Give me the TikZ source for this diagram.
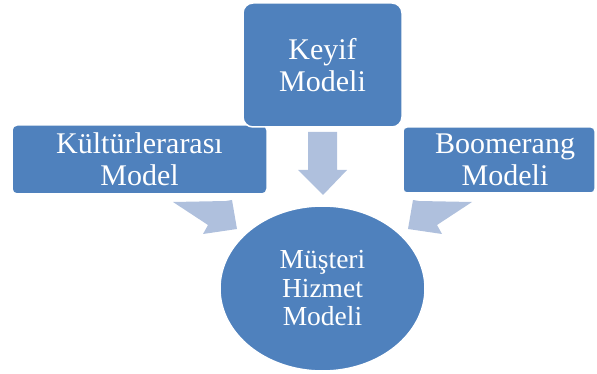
\documentclass[tikz,border=0pt]{standalone}
\usepackage{fontspec}
\setmainfont{Liberation Serif}
\usetikzlibrary{shapes.geometric}

\definecolor{modelblue}{HTML}{4F81BD}
\definecolor{arrowblue}{HTML}{AFC0DD}

\tikzset{
    modelbox/.style={fill=modelblue, draw=white, line width=1.5pt, text=white,
        align=center, inner sep=0pt, font=\fontsize{30}{32}\selectfont},
    modeltext/.style={text=white, align=center, inner sep=0pt,
        font=\fontsize{30}{32}\selectfont},
    bigarrow/.style={fill=arrowblue}
}

\begin{document}
\begin{tikzpicture}[x=1pt, y=-1pt]
    \useasboundingbox (0,0) rectangle (597,374);

    % Block arrows pointing to the centre
    \fill[bigarrow] (308,132) -- (337,132) -- (337,170) -- (347,170) -- (323,195) -- (298,170) -- (308,170) -- cycle;
    \fill[bigarrow] (173,202) -- (226,201) -- (232,200) -- (237,229) -- (203,234) -- (208,225) -- cycle;
    \fill[bigarrow] (472,202) -- (419,201) -- (413,200) -- (408,229) -- (442,234) -- (437,225) -- cycle;

    % Side boxes
    \node[modelbox, minimum width=255pt, minimum height=69pt, rounded corners=5pt] (kultur) at (139.5,159.5) {Kültürlerarası\\Model};
    \node[modelbox, minimum width=192pt, minimum height=66pt, rounded corners=4pt] (boom) at (499,160) {};
    \node[modeltext] (boomtext) at (505,160) {Boomerang\\Modeli};

    % Top box
    \node[modelbox, minimum width=159pt, minimum height=124pt, rounded corners=10pt] (keyif) at (322.5,65) {Keyif\\Modeli};

    % Centre ellipse
    \node[modelbox, ellipse, minimum width=205pt, minimum height=165pt,
        font=\fontsize{27.5}{28.5}\selectfont] (musteri) at (322.5,288.5) {Müşteri\\Hizmet\\Modeli};
\end{tikzpicture}
\end{document}
